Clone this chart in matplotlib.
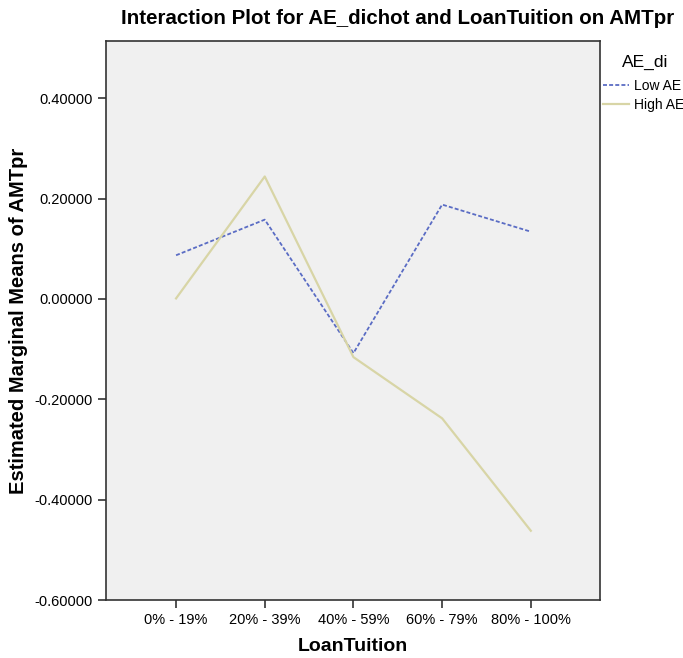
import matplotlib
matplotlib.use("Agg")
import matplotlib.pyplot as plt
from matplotlib.lines import Line2D

plt.rcParams['font.family'] = ['Liberation Sans', 'DejaVu Sans']

categories = ["0% - 19%", "20% - 39%", "40% - 59%", "60% - 79%", "80% - 100%"]
low_ae = [0.087, 0.158, -0.108, 0.188, 0.134]
high_ae = [0.001, 0.244, -0.116, -0.238, -0.462]
yticks = [-0.6, -0.4, -0.2, 0.0, 0.2, 0.4]

fig = plt.figure(figsize=(6.83, 6.58), dpi=100)
ax = fig.add_axes([106/683, 58/658, 494/683, 559/658])
ax.set_facecolor('#f0f0f0')

x = list(range(len(categories)))
ax.plot(x, low_ae, color='#5a6cc4', lw=1.3, linestyle=(0, (2.2, 1.2)))
ax.plot(x, high_ae, color='#d8d5a6', lw=1.6)

ax.set_xlim(-0.79, 4.78)
ax.set_ylim(-0.6, 0.514)
ax.set_yticks(yticks)
ax.set_yticklabels([f"{v:.5f}" for v in yticks])
ax.set_xticks(x)
ax.set_xticklabels(categories)
ax.tick_params(axis='both', labelsize=10.5, color='#333333', length=6, width=1.2)
for s in ax.spines.values():
    s.set_color('#333333')
    s.set_linewidth(1.2)

ax.set_xlabel("LoanTuition", fontsize=14, fontweight='bold', labelpad=8)
ax.set_ylabel("Estimated Marginal Means of AMTpr", fontsize=14.5, fontweight='bold')
ax.yaxis.set_label_coords((28 - 106) / 494, 0.5)
fig.text(398/683, 1 - 18/658, "Interaction Plot for AE_dichot and LoanTuition on AMTpr",
         ha='center', va='center', fontsize=14.8, fontweight='bold')

fig.text(622/683, 1 - 62/658, "AE_di", ha='left', va='center', fontsize=12.5)
handles = [Line2D([0], [0], color='#5a6cc4', lw=1.3, linestyle=(0, (2.2, 1.2))),
           Line2D([0], [0], color='#d8d5a6', lw=1.6)]
fig.legend(handles, ["Low AE", "High AE"], loc='upper left',
           bbox_to_anchor=(603/683, 1 - 79/658), frameon=False, fontsize=10,
           handlelength=1.9, handletextpad=0.3, labelspacing=0.35, borderaxespad=0, borderpad=0)

fig.savefig("out.png", dpi=100, facecolor='white')
